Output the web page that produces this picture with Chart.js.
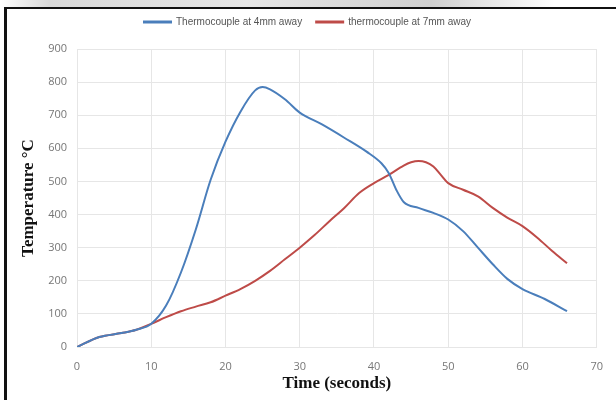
<!DOCTYPE html>
<html>
<head>
<meta charset="utf-8">
<script src="https://cdn.jsdelivr.net/npm/chart.js@4/dist/chart.umd.min.js"></script>
<style>
  html, body { margin: 0; padding: 0; background: #fff; }
  #wrap { position: relative; width: 616px; height: 400px; overflow: hidden; }
  #band { position: absolute; left: 0; top: 0; width: 616px; height: 8px;
          background: linear-gradient(to right, #fff 0%, #d9d9d9 8%, #e6e6e6 40%, #d0d0d0 70%, #fff 90%); }
  #frameTop { position: absolute; left: 4px; top: 7px; width: 612px; height: 2px; background: #111; }
  #frameLeft { position: absolute; left: 4px; top: 7px; width: 3px; height: 393px; background: #111; }
  canvas { position: absolute; left: 0; top: 0; }
</style>
</head>
<body>
<div id="wrap">
  <div id="band"></div>
  <div id="frameTop"></div>
  <div id="frameLeft"></div>
  <canvas id="chart" width="616" height="400"></canvas>
</div>
<script>
// Values
let seriesNames = ["Thermocouple at 4mm away", "thermocouple at 7mm away"];

let time4 = [0, 3, 6, 8, 10, 12, 14, 16, 18, 20, 22, 24, 25, 26, 28, 30, 33, 36, 39, 41, 42, 43, 44, 46, 48, 50, 52, 54, 56, 58, 60, 63, 66];
let temp4 = [0, 30, 42, 52, 70, 125, 225, 355, 505, 620, 710, 775, 785, 778, 748, 708, 672, 632, 590, 555, 525, 475, 438, 420, 405, 385, 350, 300, 250, 205, 175, 145, 108];

let time7 = [0, 3, 6, 8, 10, 12, 14, 16, 18, 20, 22, 24, 26, 28, 30, 32, 34, 36, 38, 40, 42, 44, 45, 46, 47, 48, 49, 50, 52, 54, 56, 58, 60, 62, 64, 66];
let temp7 = [0, 30, 42, 52, 70, 90, 108, 122, 135, 155, 175, 200, 230, 265, 300, 338, 380, 420, 465, 495, 520, 548, 558, 562, 558, 545, 520, 495, 475, 455, 420, 390, 365, 330, 290, 253];

let xTicks = [0, 10, 20, 30, 40, 50, 60, 70];
let yTicks = [0, 100, 200, 300, 400, 500, 600, 700, 800, 900];

function toPoints(xs, ys) {
  return xs.map((x, i) => ({ x: x, y: ys[i] }));
}

// Leave some room between the legend and the plot
const legendGap = {
  id: 'legendGap',
  afterInit(chart) {
    const fit = chart.legend.fit;
    chart.legend.fit = function () {
      fit.call(this);
      this.height += 12;
    };
  }
};

window.onload = () => {
  let ctx = document.getElementById("chart").getContext("2d");

  new Chart(ctx, {
    type: 'line',
    plugins: [legendGap],
    data: {
      datasets: [
        {
          label: seriesNames[0],
          data: toPoints(time4, temp4),
          borderColor: "#4a7ebb",
          backgroundColor: "#4a7ebb",
          borderWidth: 2,
          pointRadius: 0,
          cubicInterpolationMode: 'monotone',
          fill: false
        },
        {
          label: seriesNames[1],
          data: toPoints(time7, temp7),
          borderColor: "#be4b48",
          backgroundColor: "#be4b48",
          borderWidth: 2,
          pointRadius: 0,
          cubicInterpolationMode: 'monotone',
          fill: false
        }
      ]
    },
    options: {
      responsive: false,
      animation: false,
      layout: { padding: { left: 18, right: 19, top: 3, bottom: 6 } },
      plugins: {
        tooltip: { enabled: false },
        legend: {
          position: 'top',
          labels: {
            boxWidth: 27,
            boxHeight: 1,
            padding: 14,
            color: "#555",
            font: { family: "'Liberation Sans', sans-serif", size: 10 }
          }
        }
      },
      scales: {
        x: {
          type: 'linear',
          min: 0,
          max: 70,
          afterBuildTicks: (axis) => { axis.ticks = xTicks.map(v => ({ value: v })); },
          afterFit: (axis) => { axis.height = 47; },
          grid: { color: "#e6e6e6", drawTicks: false },
          border: { color: "#e6e6e6" },
          ticks: {
            color: "#777",
            padding: 13,
            font: { family: "'Open Sans', sans-serif", size: 11 }
          },
          title: {
            display: true,
            text: "Time (seconds)",
            color: "#111",
            padding: { top: 4, bottom: 0 },
            font: { family: "'Liberation Serif', 'Times New Roman', serif", size: 17, weight: 'bold' }
          }
        },
        y: {
          min: 0,
          max: 900,
          afterBuildTicks: (axis) => { axis.ticks = yTicks.map(v => ({ value: v })); },
          afterFit: (axis) => { axis.width = 59; },
          grid: { color: "#e6e6e6", drawTicks: false },
          border: { color: "#e6e6e6" },
          ticks: {
            color: "#777",
            padding: 10,
            font: { family: "'Open Sans', sans-serif", size: 11 }
          },
          title: {
            display: true,
            text: "Temperature °C",
            color: "#111",
            padding: { top: 0, bottom: 6 },
            font: { family: "'Liberation Serif', 'Times New Roman', serif", size: 17, weight: 'bold' }
          }
        }
      }
    }
  });
};
</script>
</body>
</html>
